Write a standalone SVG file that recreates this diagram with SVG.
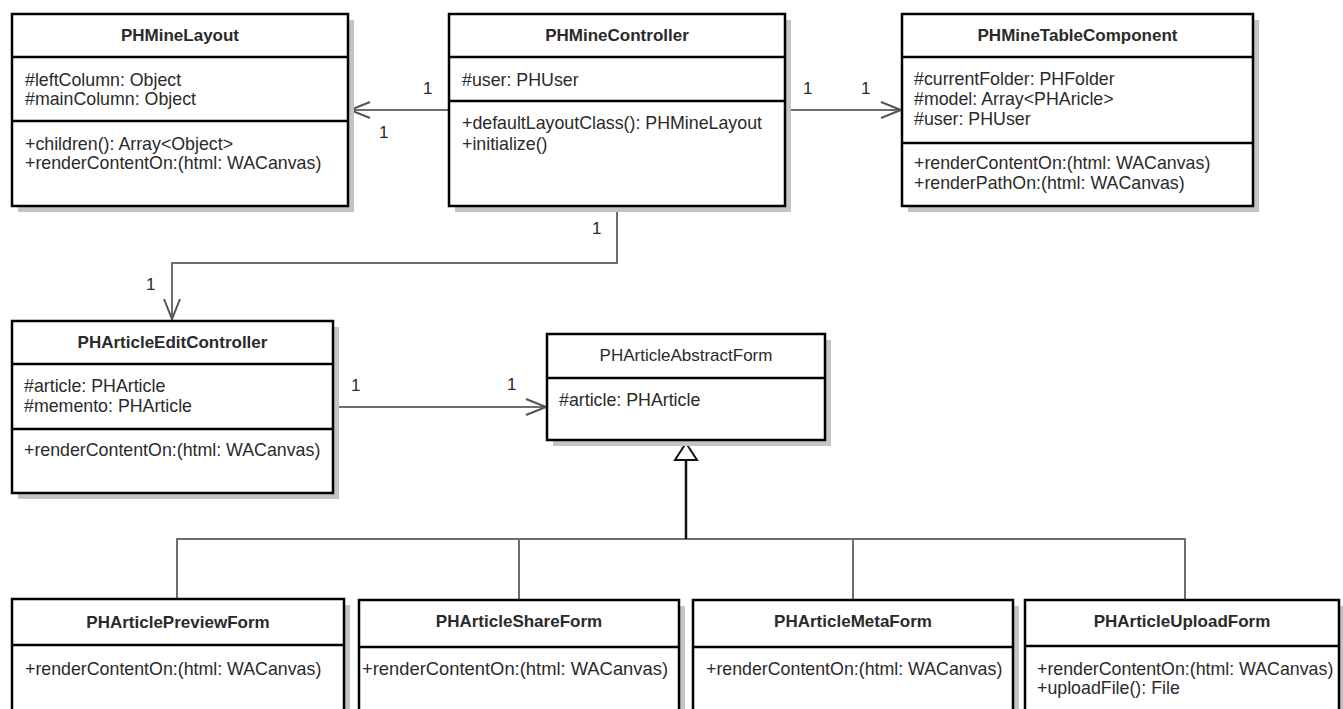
<svg xmlns="http://www.w3.org/2000/svg" width="1343" height="709" viewBox="0 0 1343 709">
<style>
.bg{fill:#fff}
.box{fill:#fff;stroke:#000;stroke-width:2.5}
.sh{fill:#c4c4c4}
.dv{stroke:#000;stroke-width:2.5}
.t{font-family:"Liberation Sans",Arial,sans-serif;font-size:17.8px;fill:#2a2a2a}
.ti{font-weight:bold;text-anchor:middle;font-size:17px}
.tn{text-anchor:middle;font-size:17px}
.c{stroke:#6e6e6e;stroke-width:2;fill:none}
.g{stroke:#111;stroke-width:2.5;fill:none}
.lbl{font-family:"Liberation Sans",Arial,sans-serif;font-size:17px;fill:#2a2a2a}
</style>
<defs>
<marker id="open" markerUnits="userSpaceOnUse" markerWidth="24" markerHeight="20" refX="21" refY="9" orient="auto">
<path d="M1,1 L21,9 L1,17" fill="none" stroke="#555" stroke-width="2"/>
</marker>
</defs>
<rect class="bg" x="0" y="0" width="1343" height="709"/>

<g id="connectors">
<line class="c" x1="449" y1="110" x2="350" y2="110" marker-end="url(#open)"/>
<line class="c" x1="785" y1="110" x2="901" y2="110" marker-end="url(#open)"/>
<polyline class="c" points="617,206 617,263 172,263 172,319" marker-end="url(#open)"/>
<line class="c" x1="333" y1="407" x2="546" y2="407" marker-end="url(#open)"/>
<polyline class="c" points="177,599 177,539 1185,539 1185,599"/>
<line class="c" x1="519" y1="539" x2="519" y2="600"/>
<line class="c" x1="853" y1="539" x2="853" y2="600"/>
<line class="g" x1="686" y1="539" x2="686" y2="460"/>
<polygon points="686,443 675,460 697,460" fill="#fff" stroke="#111" stroke-width="2"/>
<text class="lbl" x="423" y="94">1</text>
<text class="lbl" x="379" y="138">1</text>
<text class="lbl" x="803" y="94">1</text>
<text class="lbl" x="861" y="94">1</text>
<text class="lbl" x="592" y="234">1</text>
<text class="lbl" x="146" y="290">1</text>
<text class="lbl" x="351" y="391">1</text>
<text class="lbl" x="507" y="390">1</text>
</g>

<g id="PHMineLayout">
<rect class="sh" x="18" y="20" width="336" height="192"/>
<rect class="box" x="12" y="14" width="336" height="192"/>
<line class="dv" x1="12" y1="57" x2="348" y2="57"/>
<line class="dv" x1="12" y1="121" x2="348" y2="121"/>
<text class="t ti" x="180" y="41">PHMineLayout</text>
<text class="t" x="25" y="86">#leftColumn: Object</text>
<text class="t" x="25" y="105">#mainColumn: Object</text>
<text class="t" x="25" y="150">+children(): Array&lt;Object&gt;</text>
<text class="t" x="25" y="169">+renderContentOn:(html: WACanvas)</text>
</g>

<g id="PHMineController">
<rect class="sh" x="455" y="20" width="336" height="192"/>
<rect class="box" x="449" y="14" width="336" height="192"/>
<line class="dv" x1="449" y1="57" x2="785" y2="57"/>
<line class="dv" x1="449" y1="101" x2="785" y2="101"/>
<text class="t ti" x="617" y="41">PHMineController</text>
<text class="t" x="462" y="86">#user: PHUser</text>
<text class="t" x="462" y="129">+defaultLayoutClass(): PHMineLayout</text>
<text class="t" x="462" y="150">+initialize()</text>
</g>

<g id="PHMineTableComponent">
<rect class="sh" x="908" y="20" width="351" height="192"/>
<rect class="box" x="902" y="14" width="351" height="192"/>
<line class="dv" x1="902" y1="57" x2="1253" y2="57"/>
<line class="dv" x1="902" y1="143" x2="1253" y2="143"/>
<text class="t ti" x="1077.5" y="41">PHMineTableComponent</text>
<text class="t" x="914" y="85">#currentFolder: PHFolder</text>
<text class="t" x="914" y="105">#model: Array&lt;PHAricle&gt;</text>
<text class="t" x="914" y="125">#user: PHUser</text>
<text class="t" x="914" y="169">+renderContentOn:(html: WACanvas)</text>
<text class="t" x="914" y="189">+renderPathOn:(html: WACanvas)</text>
</g>

<g id="PHArticleEditController">
<rect class="sh" x="18" y="327" width="321" height="172"/>
<rect class="box" x="12" y="321" width="321" height="172"/>
<line class="dv" x1="12" y1="364" x2="333" y2="364"/>
<line class="dv" x1="12" y1="429" x2="333" y2="429"/>
<text class="t ti" x="172.5" y="348">PHArticleEditController</text>
<text class="t" x="24" y="392">#article: PHArticle</text>
<text class="t" x="24" y="412">#memento: PHArticle</text>
<text class="t" x="24" y="456">+renderContentOn:(html: WACanvas)</text>
</g>

<g id="PHArticleAbstractForm">
<rect class="sh" x="553" y="340" width="278" height="106"/>
<rect class="box" x="547" y="334" width="278" height="106"/>
<line class="dv" x1="547" y1="378" x2="825" y2="378"/>
<text class="t tn" x="686" y="361">PHArticleAbstractForm</text>
<text class="t" x="559" y="406">#article: PHArticle</text>
</g>

<g id="PHArticlePreviewForm">
<rect class="sh" x="18" y="605" width="332" height="130"/>
<rect class="box" x="12" y="599" width="332" height="130"/>
<line class="dv" x1="12" y1="645" x2="344" y2="645"/>
<text class="t ti" x="178" y="628">PHArticlePreviewForm</text>
<text class="t" x="25" y="675">+renderContentOn:(html: WACanvas)</text>
</g>

<g id="PHArticleShareForm">
<rect class="sh" x="365" y="606" width="320" height="130"/>
<rect class="box" x="359" y="600" width="320" height="130"/>
<line class="dv" x1="359" y1="647" x2="679" y2="647"/>
<text class="t ti" x="519" y="627">PHArticleShareForm</text>
<text class="t" x="362" y="675" textLength="306" lengthAdjust="spacingAndGlyphs">+renderContentOn:(html: WACanvas)</text>
</g>

<g id="PHArticleMetaForm">
<rect class="sh" x="699" y="606" width="320" height="130"/>
<rect class="box" x="693" y="600" width="320" height="130"/>
<line class="dv" x1="693" y1="647" x2="1013" y2="647"/>
<text class="t ti" x="853" y="627">PHArticleMetaForm</text>
<text class="t" x="706" y="675">+renderContentOn:(html: WACanvas)</text>
</g>

<g id="PHArticleUploadForm">
<rect class="sh" x="1031" y="606" width="314" height="130"/>
<rect class="box" x="1025" y="600" width="314" height="130"/>
<line class="dv" x1="1025" y1="646" x2="1339" y2="646"/>
<text class="t ti" x="1182" y="627">PHArticleUploadForm</text>
<text class="t" x="1037" y="675">+renderContentOn:(html: WACanvas)</text>
<text class="t" x="1037" y="694">+uploadFile(): File</text>
</g>
</svg>
